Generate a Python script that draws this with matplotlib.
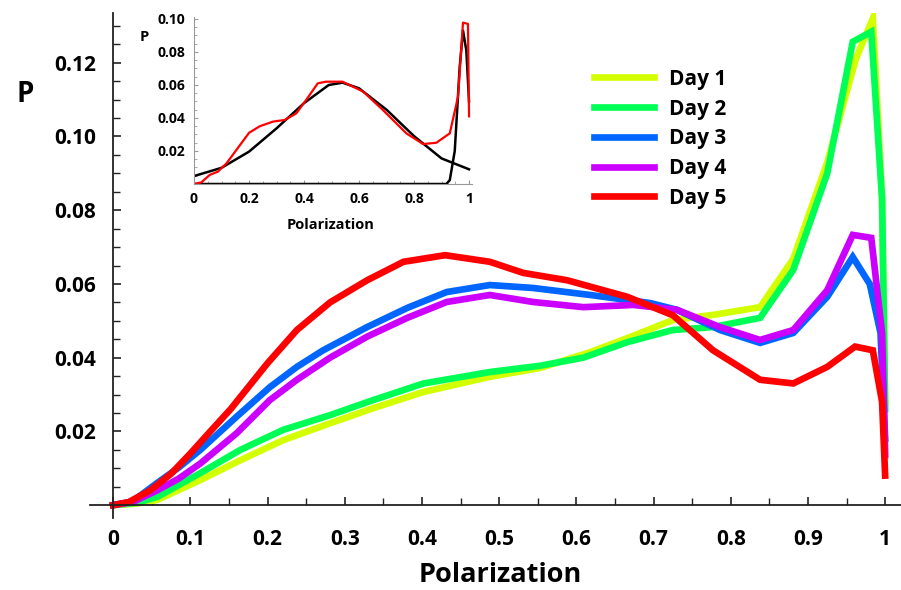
import matplotlib
matplotlib.use("Agg")
import matplotlib.pyplot as plt
from matplotlib.ticker import MultipleLocator, FixedLocator

plt.rcParams["font.family"] = ["Open Sans", "DejaVu Sans"]
plt.rcParams["font.weight"] = "bold"

# ---- main panel data ----
day_labels = ["Day 1", "Day 2", "Day 3", "Day 4", "Day 5"]
day_colors = ["#d4ff00", "#00ff55", "#0066ff", "#cc00ff", "#ff0000"]

day1_x = [0, 0.03, 0.057, 0.113, 0.165, 0.22, 0.281, 0.337, 0.402, 0.488, 0.553,
          0.618, 0.666, 0.725, 0.777, 0.838, 0.881, 0.925, 0.962, 0.984, 0.996, 1.0]
day1_y = [0, 0.0004, 0.0014, 0.0068, 0.0122, 0.0176, 0.0222, 0.0263, 0.0307, 0.0348, 0.0372,
          0.0415, 0.0453, 0.0502, 0.0516, 0.0537, 0.0668, 0.093, 0.121, 0.132, 0.083, 0.028]

day2_x = [0, 0.03, 0.057, 0.113, 0.165, 0.22, 0.281, 0.337, 0.402, 0.488, 0.553,
          0.609, 0.666, 0.725, 0.777, 0.838, 0.881, 0.925, 0.958, 0.982, 0.996, 1.0]
day2_y = [0, 0.0006, 0.0022, 0.0087, 0.015, 0.0204, 0.0244, 0.0285, 0.033, 0.0361, 0.0378,
          0.040, 0.0442, 0.0475, 0.0483, 0.0508, 0.0638, 0.090, 0.1257, 0.1284, 0.083, 0.026]

day3_x = [0, 0.025, 0.057, 0.085, 0.113, 0.16, 0.203, 0.238, 0.272, 0.329, 0.381, 0.432,
          0.488, 0.544, 0.618, 0.696, 0.73, 0.786, 0.838, 0.881, 0.925, 0.958, 0.98, 0.994, 1.0]
day3_y = [0, 0.001, 0.006, 0.0102, 0.015, 0.024, 0.032, 0.0375, 0.042, 0.0483, 0.0535, 0.0578,
          0.0597, 0.0589, 0.057, 0.0548, 0.053, 0.0475, 0.044, 0.0467, 0.0565, 0.0673, 0.060, 0.0467, 0.018]

day4_x = [0, 0.025, 0.057, 0.085, 0.113, 0.16, 0.203, 0.238, 0.281, 0.329, 0.381, 0.432,
          0.488, 0.544, 0.609, 0.674, 0.73, 0.786, 0.838, 0.881, 0.925, 0.958, 0.982, 0.996, 1.0]
day4_y = [0, 0.0008, 0.004, 0.0072, 0.0113, 0.0195, 0.0285, 0.034, 0.040, 0.0457, 0.0508, 0.0551,
          0.057, 0.0551, 0.0537, 0.0543, 0.053, 0.0483, 0.0448, 0.0475, 0.0583, 0.0733, 0.0725, 0.0467, 0.0136]

day5_x = [0, 0.02, 0.048, 0.075, 0.1, 0.125, 0.152, 0.2, 0.238, 0.281, 0.329, 0.376, 0.43,
          0.488, 0.531, 0.588, 0.666, 0.725, 0.777, 0.838, 0.881, 0.925, 0.961, 0.984, 0.996, 1.0]
day5_y = [0, 0.0008, 0.004, 0.0085, 0.014, 0.0198, 0.026, 0.0385, 0.0475, 0.055, 0.061, 0.066, 0.0678,
          0.066, 0.063, 0.061, 0.0565, 0.0515, 0.042, 0.034, 0.033, 0.0375, 0.043, 0.042, 0.028, 0.008]

days_x = [day1_x, day2_x, day3_x, day4_x, day5_x]
days_y = [day1_y, day2_y, day3_y, day4_y, day5_y]

# ---- inset data ----
fit_x = [0, 0.1, 0.2, 0.3, 0.4, 0.49, 0.54, 0.6, 0.7, 0.8, 0.9, 1.0]
fit_y = [0.0048, 0.0098, 0.0196, 0.0337, 0.049, 0.060, 0.0614, 0.058, 0.045, 0.029, 0.0155, 0.0089]

spike_x = [0, 0.918, 0.93, 0.948, 0.966, 0.978, 0.99, 1.0]
spike_y = [0, 0, 0.0024, 0.020, 0.071, 0.093, 0.081, 0.05]

inset_red_x = [0, 0.027, 0.057, 0.087, 0.118, 0.154, 0.2, 0.239, 0.287, 0.33, 0.372, 0.408,
               0.45, 0.48, 0.54, 0.615, 0.687, 0.772, 0.833, 0.881, 0.93, 0.96, 0.978, 0.996, 1.0]
inset_red_y = [0, 0.001, 0.0055, 0.0075, 0.0125, 0.0206, 0.031, 0.035, 0.0378, 0.0388, 0.0428, 0.051,
               0.061, 0.062, 0.062, 0.056, 0.0448, 0.0307, 0.0242, 0.025, 0.0307, 0.053, 0.0978, 0.097, 0.041]

x_ticks = [0, 0.1, 0.2, 0.3, 0.4, 0.5, 0.6, 0.7, 0.8, 0.9, 1]
x_tick_labels = ["0", "0.1", "0.2", "0.3", "0.4", "0.5", "0.6", "0.7", "0.8", "0.9", "1"]
y_ticks = [0.02, 0.04, 0.06, 0.08, 0.10, 0.12]
y_tick_labels = ["0.02", "0.04", "0.06", "0.08", "0.10", "0.12"]
inset_x_ticks = [0, 0.2, 0.4, 0.6, 0.8, 1]
inset_x_labels = ["0", "0.2", "0.4", "0.6", "0.8", "1"]
inset_y_ticks = [0.02, 0.04, 0.06, 0.08, 0.10]
inset_y_labels = ["0.02", "0.04", "0.06", "0.08", "0.10"]

W, H = 901, 590
fig = plt.figure(figsize=(W / 100, H / 100), dpi=100)


def px_axes(left, right, top, bottom):
    return [left / W, 1 - bottom / H, (right - left) / W, (bottom - top) / H]


def math_axes(ax, spine_color):
    for side in ("top", "right"):
        ax.spines[side].set_visible(False)
    ax.spines["left"].set_position(("data", 0))
    ax.spines["bottom"].set_position(("data", 0))
    for side in ("left", "bottom"):
        ax.spines[side].set_color(spine_color)
    ax.patch.set_alpha(0)


# main axes: x -0.03..1.02 -> px 90..900.6 ; y -0.0035..0.1335 -> px 518..13
ax = fig.add_axes(px_axes(90, 900.6, 13, 518))
for xs, ys, c, lab in zip(days_x, days_y, day_colors, day_labels):
    ax.plot(xs, ys, color=c, lw=4.8, label=lab, solid_joinstyle="miter")
ax.set_xlim(-0.03, 1.02)
ax.set_ylim(-0.0035, 0.1335)
math_axes(ax, "#222222")
ax.spines["left"].set_linewidth(1.3)
ax.spines["bottom"].set_linewidth(1.3)
ax.xaxis.set_major_locator(FixedLocator(x_ticks))
ax.set_xticklabels(x_tick_labels)
ax.xaxis.set_minor_locator(MultipleLocator(0.05))
ax.yaxis.set_major_locator(FixedLocator(y_ticks))
ax.set_yticklabels(y_tick_labels)
ax.yaxis.set_minor_locator(MultipleLocator(0.005))
ax.tick_params(axis="both", which="both", direction="in", color="#222222")
ax.tick_params(axis="both", which="major", length=6, width=1.2, labelsize=15)
ax.tick_params(axis="both", which="minor", length=5, width=1.0)
ax.tick_params(axis="x", which="major", pad=17)
ax.tick_params(axis="y", which="major", pad=12)
for t in ax.get_xticklabels() + ax.get_yticklabels():
    t.set_fontweight("bold")

fig.text(500 / W, 1 - 575 / H, "Polarization", fontsize=19.5, fontweight="bold",
         ha="center", va="center")
fig.text(25 / W, 1 - 95 / H, "P", fontsize=20, fontweight="bold",
         ha="center", va="center")

leg = ax.legend(loc="upper left", bbox_to_anchor=(575 / W, 1 - 50 / H),
                bbox_transform=fig.transFigure, frameon=False, fontsize=15,
                handlelength=2.9, handletextpad=0.7, labelspacing=0.42)
for t in leg.get_texts():
    t.set_fontweight("bold")

# inset: x 0..1.01 -> px 194..471.8 ; y 0..0.1015 -> px 184..16.5
ins = fig.add_axes(px_axes(194, 471.8, 16.5, 184))
ins.plot(fit_x, fit_y, color="black", lw=1.8)
ins.plot(spike_x, spike_y, color="black", lw=1.8)
ins.plot(inset_red_x, inset_red_y, color="#ff0000", lw=1.6)
ins.set_xlim(0, 1.01)
ins.set_ylim(0, 0.1015)
math_axes(ins, "#999999")
ins.xaxis.set_major_locator(FixedLocator(inset_x_ticks))
ins.set_xticklabels(inset_x_labels)
ins.xaxis.set_minor_locator(MultipleLocator(0.05))
ins.yaxis.set_major_locator(FixedLocator(inset_y_ticks))
ins.set_yticklabels(inset_y_labels)
ins.yaxis.set_minor_locator(MultipleLocator(0.005))
ins.tick_params(axis="both", which="both", direction="in", color="#999999")
ins.tick_params(axis="both", which="major", length=3, width=0.8, labelsize=10, pad=6)
ins.tick_params(axis="both", which="minor", length=2, width=0.6)
for t in ins.get_xticklabels() + ins.get_yticklabels():
    t.set_fontweight("bold")
fig.text(331 / W, 1 - 225 / H, "Polarization", fontsize=10.5, fontweight="bold",
         ha="center", va="center")
fig.text(144 / W, 1 - 37 / H, "P", fontsize=10.5, fontweight="bold",
         ha="center", va="center")

fig.savefig("out.png", dpi=100)
